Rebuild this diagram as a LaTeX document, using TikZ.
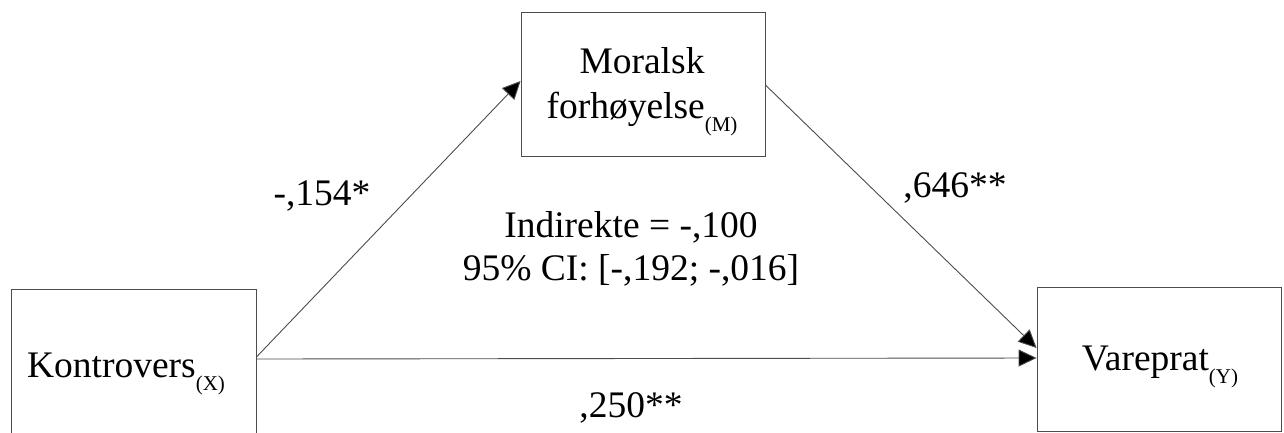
\documentclass[tikz,border=0pt]{standalone}
\usepackage{fontspec}
\setmainfont{Liberation Serif}
\usetikzlibrary{arrows.meta,calc}
\newcommand\subl[1]{\raisebox{-13pt}{\fontsize{21}{21}\selectfont #1}}
\begin{document}
\begin{tikzpicture}[x=1pt,y=-1pt,
  box/.style={draw=black!70, line width=0.9pt, minimum width=#1, minimum height=144pt, inner sep=0pt},
  box/.default=245pt,
  txt/.style={font=\fontsize{37.5}{45}\selectfont, inner sep=0pt, anchor=base},
  lbl/.style={font=\fontsize{37.5}{43}\selectfont, inner sep=0pt, anchor=base},
  arr/.style={draw=black!70, line width=0.9pt, -{Triangle[length=18pt,width=17pt,fill=black]}}]
\useasboundingbox (0,0) rectangle (1284,432);
% boxes
\node[box=245pt] (X) at (133.5,361) {};
\node[box=244pt] (M) at (643,84) {};
\node[box=244pt] (Y) at (1159,359) {};
% box texts
\node[txt] (Xt) at (126,377) {Kontrovers\subl{(X)}};
\node[txt] (Mt1) at (642,73) {Moralsk};
\node[txt] (Mt2) at (642,118) {forhøyelse\subl{(M)}};
\node[txt] (Yt) at (1160,370) {Vareprat\subl{(Y)}};
% connectors
\draw[arr] ($(X.east)+(0,-4)$) -- ($(M.west)+(0,-3)$);
\draw[arr] ($(M.east)+(0,1)$) -- ($(Y.west)+(0,-11)$);
\draw[arr] ($(X.east)+(0,-2)$) -- ($(Y.west)+(0,-1)$);
% labels
\node[lbl] (a) at (322,205) {-,154*};
\node[lbl] (b) at (955,197) {,646**};
\node[lbl] (c) at (631,417) {,250**};
\node[lbl] (i1) at (631,237) {Indirekte = -,100};
\node[lbl] (i2) at (631,280) {95\% CI: [-,192; -,016]};
\end{tikzpicture}
\end{document}
